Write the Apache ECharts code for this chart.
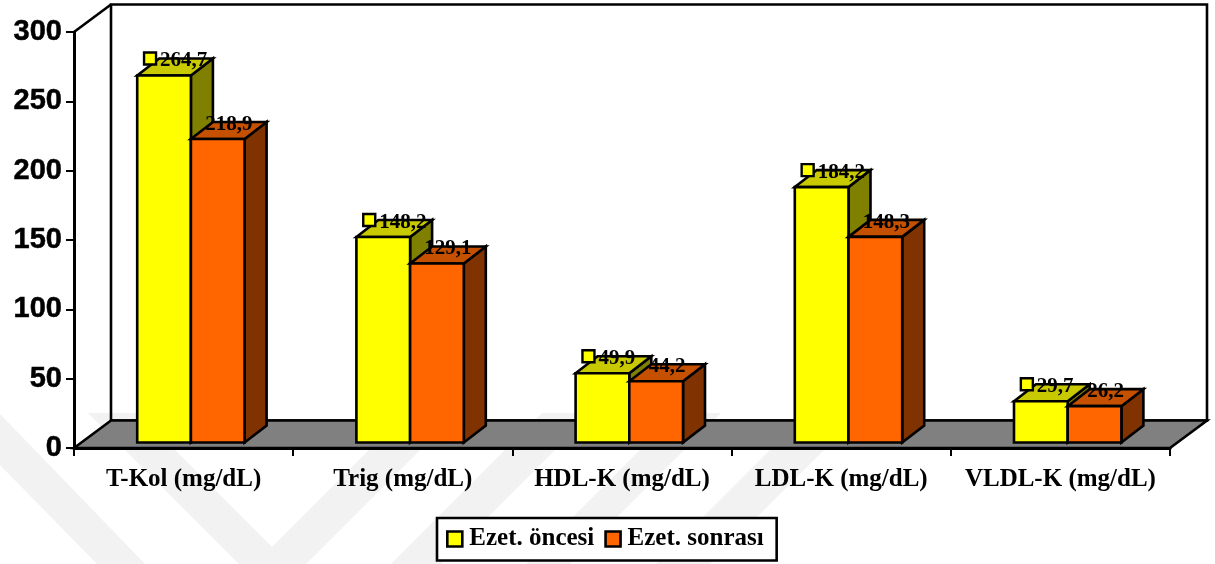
<!DOCTYPE html>
<html><head><meta charset="utf-8">
<style>html,body{margin:0;padding:0;background:#fff}#c{width:1215px;height:564px}</style>
<script src="https://cdn.jsdelivr.net/npm/echarts@6/dist/echarts.min.js"></script>
</head><body><div id="c"></div>
<script>
const categories = ['T-Kol (mg/dL)','Trig (mg/dL)','HDL-K (mg/dL)','LDL-K (mg/dL)','VLDL-K (mg/dL)'];
const before = [264.7,148.2,49.9,184.2,29.7];
const after = [218.9,129.1,44.2,148.3,26.2];
const seriesNames = ['Ezet. öncesi','Ezet. sonrası'];
const yTicks = {min:0,max:300,interval:50};
const serif = '"Liberation Serif","Times New Roman",serif';
const sans = '"Liberation Sans",Arial,sans-serif';
const W = {dx:37,dy:27.5};
const B = {ox:7.3,oy:5.5,dx:22,dy:17,w:53.7};
const LW = 2.6;
// faint watermark behind the chart
const watermark = [
  [[0,414],[145,564],[97,564],[0,465]],
  [[88,413],[138,413],[272,547],[406,413],[457,413],[306,564],[239,564]],
  [[542,413],[592,413],[441,564],[391,564]],
  [[677,413],[721,413],[570,564],[526,564]],
  [[807,413],[861,413],[710,564],[656,564]]
];

const poly=(pts,fill,z2)=>({type:'polygon',z2,shape:{points:pts},style:{fill,stroke:'#000',lineWidth:LW,lineJoin:'miter'}});
function fmt(v){return v.toFixed(1).replace('.',',');}
function barItem(idx,colors,withKey,base){
  return function(params,api){
    const cat=api.value(0), val=api.value(1);
    const p0=api.coord([cat,0]), p=api.coord([cat,val]);
    const xl=p0[0]+B.ox+(idx-1)*B.w, xr=xl+B.w, yb=p0[1]-B.oy, yt=p[1]-B.oy;
    const d=B.dx,e=B.dy;
    const children=[
      poly([[xr,yb],[xr+d,yb-e],[xr+d,yt-e],[xr,yt]],colors[2],base),
      poly([[xl,yt],[xl+d,yt-e],[xr+d,yt-e],[xr,yt]],colors[1],base),
      {type:'rect',z2:base,shape:{x:xl,y:yt,width:B.w,height:yb-yt},style:{fill:colors[0],stroke:'#000',lineWidth:LW}}
    ];
    const cx=(xl+xr)/2+11, ty=yt-17;
    const font='bold 21px '+serif;
    if(withKey){
      children.push({type:'rect',z2:20,shape:{x:cx-31,y:ty-6,width:12,height:12},style:{fill:colors[0],stroke:'#000',lineWidth:2.4}});
      children.push({type:'text',z2:21,style:{x:cx-15,y:ty+2.5,text:fmt(val),font,fill:'#000',align:'left',verticalAlign:'middle'}});
    }else{
      children.push({type:'text',z2:21,style:{x:cx,y:ty+2.5,text:fmt(val),font,fill:'#000',align:'center',verticalAlign:'middle'}});
    }
    return {type:'group',children};
  };
}
function wallItem(params){
  const c=params.coordSys, x=c.x,y=c.y,w=c.width,h=c.height,b=y+h;
  return {type:'group',children:[
    {type:'rect',z2:0,shape:{x:x+W.dx,y:y-W.dy,width:w,height:h},style:{fill:'none',stroke:'#000',lineWidth:LW}},
    {type:'line',z2:0,shape:{x1:x,y1:y,x2:x+W.dx,y2:y-W.dy},style:{stroke:'#000',lineWidth:LW}},
    poly([[x,b],[x+W.dx,b-W.dy],[x+w+W.dx,b-W.dy],[x+w,b]],'#808080',1)
  ]};
}
const chart=echarts.init(document.getElementById('c'),null,{renderer:'canvas'});
chart.setOption({
  animation:false,backgroundColor:'#fff',
  graphic:{elements:watermark.map(pts=>({type:'polygon',silent:true,z:0,shape:{points:pts},style:{fill:'#f2f2f2'}}))},
  grid:{left:74,right:45,top:32,height:416,containLabel:false},
  xAxis:{type:'category',data:categories,z:5,axisTick:{show:true,alignWithLabel:false,length:8,lineStyle:{color:'#000',width:2}},
    axisLine:{onZero:false,lineStyle:{color:'#000',width:3}},
    axisLabel:{interval:0,color:'#000',fontFamily:serif,fontWeight:'bold',fontSize:25,margin:19},splitLine:{show:false}},
  yAxis:{type:'value',...yTicks,z:5,axisLine:{show:true,lineStyle:{color:'#000',width:3}},axisTick:{show:true,length:8,lineStyle:{color:'#000',width:2}},
    splitLine:{show:false},axisLabel:{color:'#000',fontFamily:sans,fontWeight:'bold',fontSize:29,margin:12,textBorderColor:'#000',textBorderWidth:0.5,padding:[6,0,0,0]}},
  legend:{show:true,left:437,top:518,data:seriesNames.map((n,i)=>({name:n,icon:'rect',itemStyle:{color:['#ffff00','#ff6600'][i],borderColor:'#000',borderWidth:2.6}})),
    itemWidth:15,itemHeight:15,itemGap:10,padding:[8.5,13,9,9],borderColor:'#000',borderWidth:2.6,backgroundColor:'#fff',z:6,
    textStyle:{fontFamily:serif,fontWeight:'bold',fontSize:25,color:'#000',padding:[1,0,0,2]}},
  series:[
    {type:'custom',silent:true,name:'walls',z:1,renderItem:wallItem,data:[[0,0]],encode:{x:0,y:1},clip:false},
    {type:'custom',name:seriesNames[0],z:2,itemStyle:{color:'#ffff00'},renderItem:barItem(0,['#ffff00','#c9c900','#808000'],true,2),data:before.map((v,i)=>[i,v]),encode:{x:0,y:1},clip:false},
    {type:'custom',name:seriesNames[1],z:2,itemStyle:{color:'#ff6600'},renderItem:barItem(1,['#ff6600','#c55000','#803300'],false,3),data:after.map((v,i)=>[i,v]),encode:{x:0,y:1},clip:false}
  ]
});
</script></body></html>
